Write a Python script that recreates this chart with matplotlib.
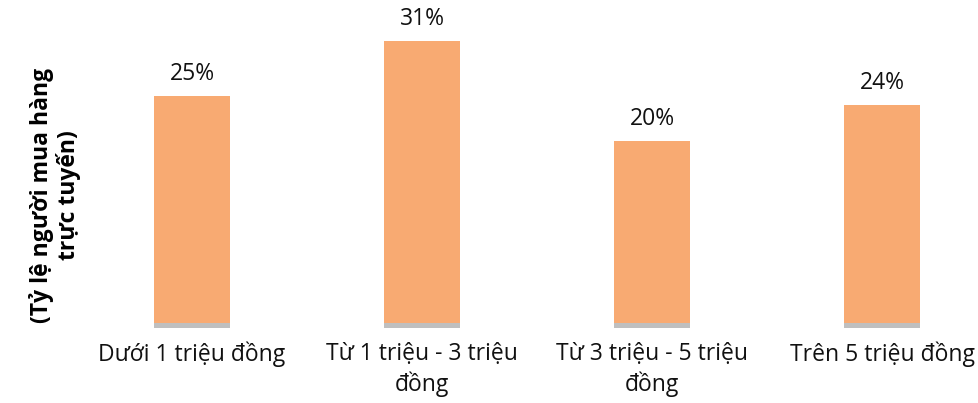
import numpy as np
import matplotlib.pyplot as plt

categories = ["Dưới 1 triệu đồng", "Từ 1 triệu - 3 triệu\nđồng",
              "Từ 3 triệu - 5 triệu\nđồng", "Trên 5 triệu đồng"]
shares = [25, 31, 20, 24]
ylabel = "(Tỷ lệ người mua hàng\ntrực tuyến)"

plt.rcParams['font.family'] = ['Open Sans', 'DejaVu Sans']

W, H = 979, 403
fig = plt.figure(figsize=(W / 100, H / 100), dpi=100)
# axes spans the bar area: bottom at pixel row 328, top at row 41
ax = fig.add_axes([0, (H - 328) / H, 1, (328 - 41) / H])

x = np.arange(len(categories))
base = 0.55
ax.bar(x, shares, width=0.33, color="#F8AA72", zorder=2)
ax.bar(x, base, bottom=-base, width=0.33, color="#BFBFBF", zorder=2)

for xi, v in zip(x, shares):
    ax.annotate(f"{v}%", (xi, v), xytext=(0, 7), textcoords="offset points",
                ha="center", va="bottom", fontsize=16.5, color="#111111")

ax.set_xlim(-192 / 230, (W - 192) / 230)
ax.set_ylim(-base, 31)
ax.set_xticks(x)
ax.set_xticklabels(categories, fontsize=16.5, color="#111111", linespacing=1.3)
ax.tick_params(axis="x", length=0, pad=10)
ax.set_yticks([])
for s in ax.spines.values():
    s.set_visible(False)

fig.text(55 / W, (H - 195) / H, ylabel, rotation=90, ha="center", va="center",
         multialignment="center", fontsize=16.5, fontweight="bold", linespacing=1.1)

fig.savefig("out.png", dpi=100)
